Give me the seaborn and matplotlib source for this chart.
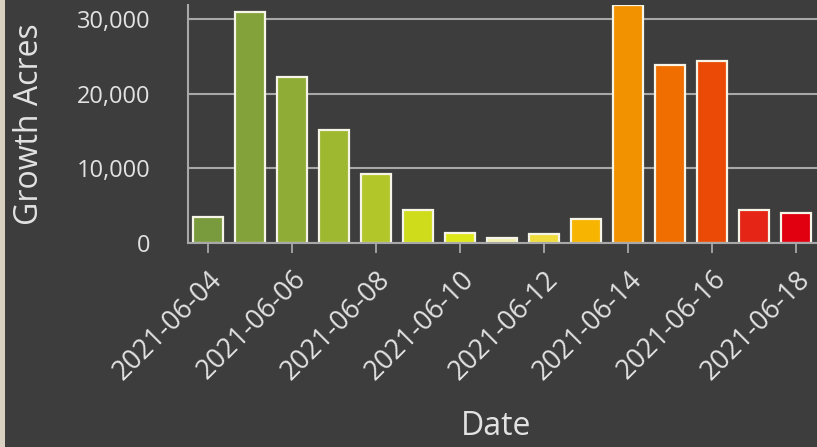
"""Daily fire growth bar chart on a dark panel."""

import matplotlib

matplotlib.use("Agg")
import matplotlib.pyplot as plt
import pandas as pd
import seaborn as sns
from matplotlib.patches import Rectangle
from matplotlib.ticker import FuncFormatter

dates = [
    "2021-06-04", "2021-06-05", "2021-06-06", "2021-06-07", "2021-06-08",
    "2021-06-09", "2021-06-10", "2021-06-11", "2021-06-12", "2021-06-13",
    "2021-06-14", "2021-06-15", "2021-06-16", "2021-06-17", "2021-06-18",
]
growth_acres = [
    3500, 31000, 22200, 15100, 9200,
    4500, 1300, 700, 1200, 3200,
    31850, 23850, 24400, 4500, 4000,
]
bar_colors = [
    "#7a9a3e", "#84a23a", "#8fac36", "#9eb830", "#b2c629",
    "#cfdc1c", "#dfe81a", "#f3f0b0", "#f0dc3c", "#f7b400",
    "#f39200", "#f06d00", "#ea4a05", "#e52515", "#e00010",
]

BG = "#3d3d3d"
FG = "#e2e2e2"
GRID = "#a8a8a8"

df = pd.DataFrame({"date": dates, "acres": growth_acres})

sns.set_style("dark")
plt.rcParams["font.family"] = ["Open Sans", "DejaVu Sans"]

fig = plt.figure(figsize=(8.17, 4.47), dpi=100, facecolor=BG)
ax = fig.add_axes([0.230, 0.456, 0.770, 0.533])
ax.set_facecolor(BG)

sns.barplot(
    data=df, x="date", y="acres", hue="date", palette=bar_colors,
    saturation=1, legend=False, width=0.72, edgecolor="#f6f4e6",
    linewidth=1.6, ax=ax,
)

ax.set_xlim(-0.47, len(dates) - 0.5)
ax.set_ylim(0, max(growth_acres) + 50)
ax.set_yticks([0, 10000, 20000, 30000])
ax.yaxis.set_major_formatter(FuncFormatter(lambda v, _: f"{v:,.0f}"))
ax.yaxis.grid(True, color=GRID, linewidth=1.5)
ax.xaxis.grid(False)
ax.set_axisbelow(True)

ax.set_xticks(range(0, len(dates), 2))
ax.set_xticklabels(dates[::2], rotation=45, ha="right", rotation_mode="anchor")

ax.tick_params(axis="x", colors=GRID, labelcolor=FG, labelsize=19.5,
               length=7, width=1.3, direction="out", bottom=True, pad=9)
ax.tick_params(axis="y", labelcolor=FG, labelsize=17, length=0, pad=27)

for side in ("top", "right"):
    ax.spines[side].set_visible(False)
for side in ("left", "bottom"):
    ax.spines[side].set_visible(True)
    ax.spines[side].set_color(GRID)
    ax.spines[side].set_linewidth(1.5)

ax.set_xlabel("Date", color=FG, fontsize=23)
ax.set_ylabel("Growth Acres", color=FG, fontsize=23)
ax.xaxis.set_label_coords(0.49, -0.70)
ax.yaxis.set_label_coords(-0.226, 0.5)

# beige strip of the page behind the screenshot
fig.patches.append(Rectangle((0, 0), 5 / 817, 1, transform=fig.transFigure,
                             facecolor="#d8d0c0", edgecolor="none", zorder=-1))

fig.savefig("out.png", dpi=100, facecolor=BG)
